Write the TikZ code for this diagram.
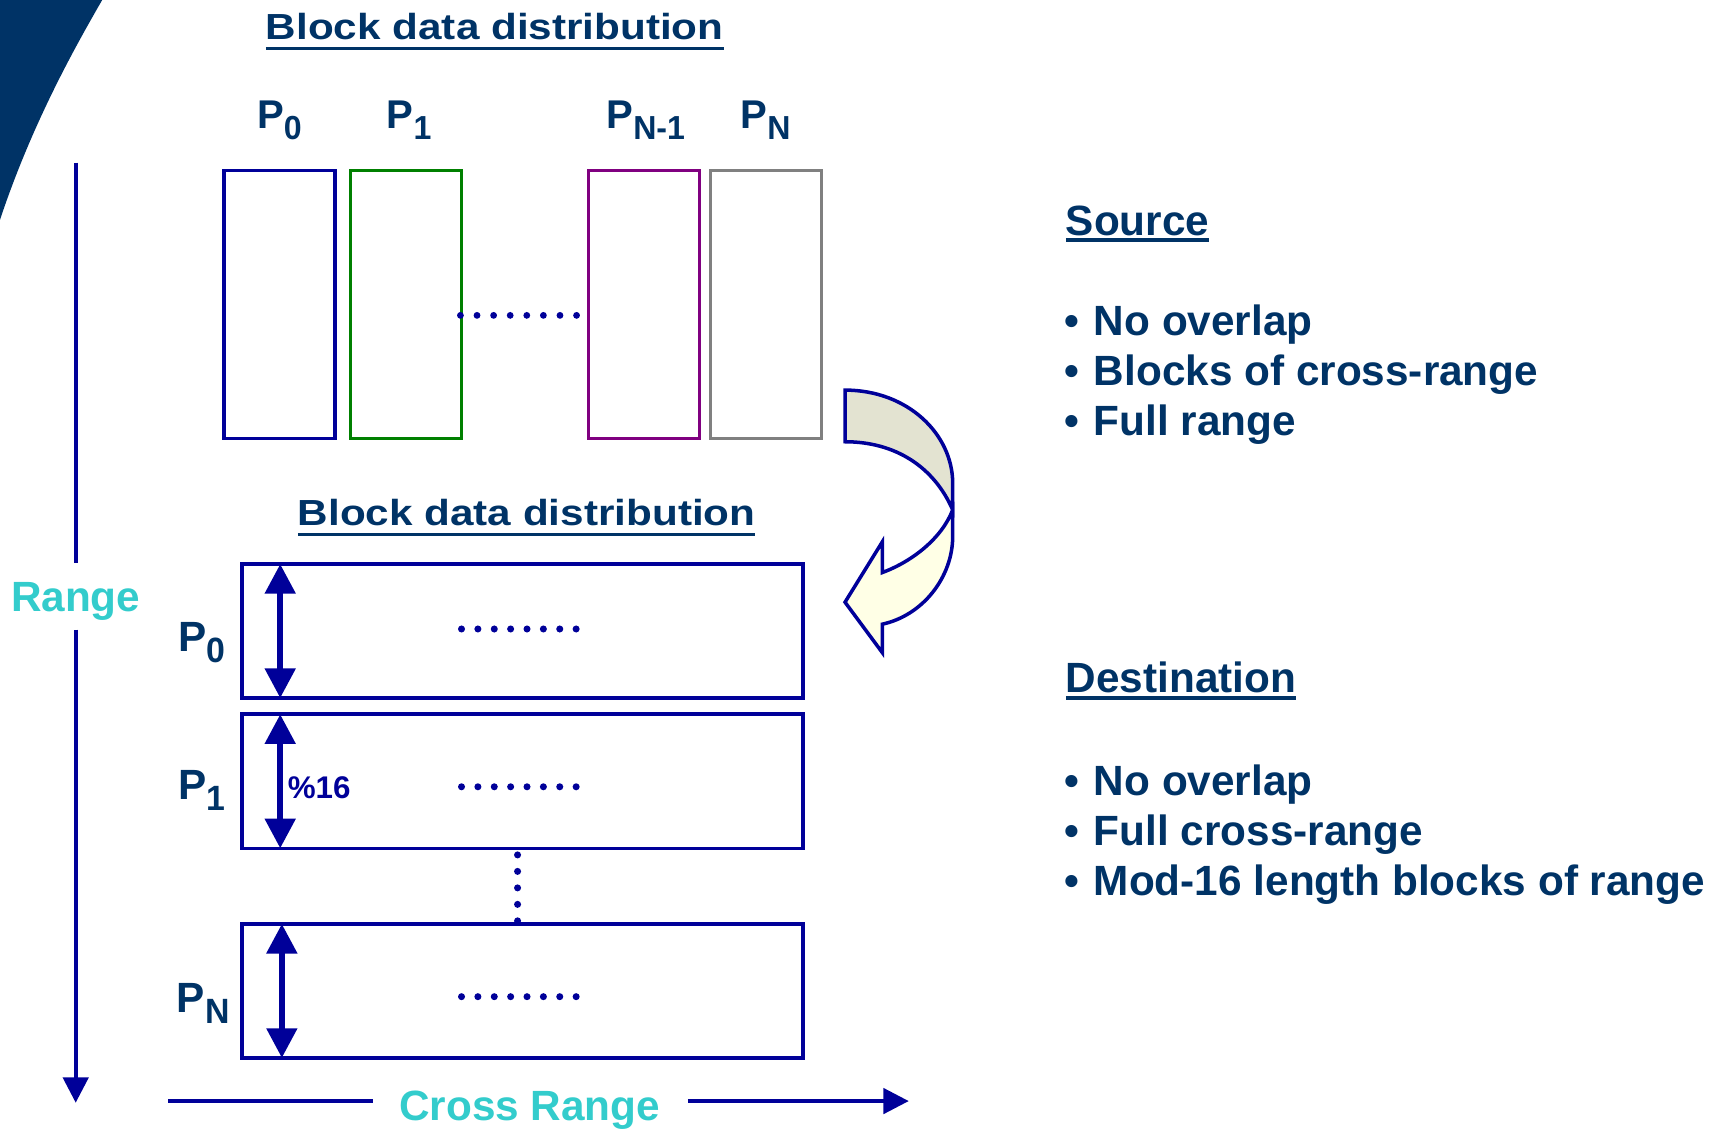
\documentclass[tikz,border=0pt]{standalone}
\usepackage{fontspec}
\setmainfont{Liberation Sans}
\usetikzlibrary{arrows.meta}
\definecolor{txt}{RGB}{0,51,102}
\definecolor{navy}{RGB}{0,0,153}
\definecolor{turq}{RGB}{51,204,204}
\definecolor{pgreen}{RGB}{0,128,0}
\definecolor{ppurple}{RGB}{128,0,128}
\definecolor{pgray}{RGB}{128,128,128}
\definecolor{arrowtop}{RGB}{227,227,209}
\definecolor{arrowbot}{RGB}{255,255,230}
\newcommand{\PSub}[1]{P\raisebox{-10pt}{\scalebox{0.8}[0.83]{#1}}}
\newcommand{\bul}{\makebox[26.5pt][l]{•}}
\begin{document}
\begin{tikzpicture}[x=1pt,y=-1pt,
  txtnode/.style={inner sep=0pt, outer sep=0pt, text=txt, font=\fontsize{38.5}{44}\selectfont\bfseries, anchor=base west},
  ttl/.style={txtnode, font=\fontsize{33}{38}\selectfont\bfseries},
  toplbl/.style={txtnode, font=\fontsize{36.5}{42}\selectfont\bfseries},
  ul/.style={draw=txt, line width=3.2pt},
  pbox/.style={draw, line width=3.2pt, inner sep=0pt, outer sep=0pt, minimum width=101pt, minimum height=244pt},
  hbox/.style={draw=navy, line width=3.3pt, inner sep=0pt, outer sep=0pt, minimum width=511pt, minimum height=122pt},
  axis/.style={draw=navy, line width=3.3pt},
  axarrow/.style={axis, -{Triangle[length=23pt,width=23pt]}},
  dbl/.style={draw=navy, line width=5.5pt, {Triangle[length=27pt,width=27pt]}-{Triangle[length=27pt,width=27pt]}},
  dotmark/.style={fill=navy},
  bigarrow/.style={draw=navy, line width=3.2pt, line join=miter},
]
\useasboundingbox (0,0) rectangle (1568,1028);

% corner decoration
\fill[txt] (0,0) -- (93,0) .. controls (70,40) and (30,110) .. (0,200) -- cycle;

% titles
\node[ttl] (title1) at (242,35.8) {\scalebox{1.165}[1]{Block data distribution}};
\draw[ul] ([yshift=-8.2pt]title1.base west) -- ([yshift=-8.2pt]title1.base east);
\node[ttl] (title2) at (271,478) {\scalebox{1.165}[1]{Block data distribution}};
\draw[ul] ([yshift=-8.2pt]title2.base west) -- ([yshift=-8.2pt]title2.base east);

% top labels
\node[toplbl] (lp0) at (234,116.5) {\PSub{0}};
\node[toplbl] (lp1) at (352,116.5) {\PSub{1}};
\node[toplbl] (lpn1) at (552,116.5) {\PSub{N-1}};
\node[toplbl] (lpn) at (674,116.5) {\PSub{N}};

% top boxes
\node[pbox, draw=navy] (b0) at (254.5,277) {};
\node[pbox, draw=pgreen] (b1) at (369.5,277) {};
\node[pbox, draw=ppurple] (bn1) at (586,277) {};
\node[pbox, draw=pgray] (bn) at (697,277) {};
\foreach \i in {0,...,7} \fill[dotmark] (419+\i*15.1,287) circle (3.1);

% curved arrow
\path[bigarrow, fill=arrowbot] (867,464) -- (867,488) .. controls (867,525) and (840,560) .. (803,568)
  -- (803,594) -- (769,548) -- (803,493) -- (803,521) .. controls (830,511) and (857,490) .. (867,464) -- cycle;
\path[bigarrow, fill=arrowtop] (769,355) .. controls (826,355) and (867,395) .. (867,440) -- (867,464)
  .. controls (850,425) and (815,402) .. (769,402) -- cycle;

% bottom boxes
\node[hbox] (h0) at (475.5,574.25) {};
\node[hbox] (h1) at (475.5,711) {};
\node[hbox] (hn) at (475.5,901.75) {};
\draw[dbl] ([xshift=-220.5pt]h0.north) -- ([xshift=-220.5pt]h0.south);
\draw[dbl] ([xshift=-220.5pt]h1.north) -- ([xshift=-220.5pt]h1.south);
\draw[dbl] ([xshift=-219pt]hn.north) -- ([xshift=-219pt]hn.south);
\node[txtnode, text=navy, font=\fontsize{28.5}{32}\selectfont\bfseries] (mod) at (262,726.5) {\%16};
\foreach \yy in {572.4,716,907} \foreach \i in {0,...,7} \fill[dotmark] (420+\i*14.9,\yy) circle (3.2);
\foreach \i in {0,...,4} \fill[dotmark] (471,778+\i*15) circle (3.2);

% left labels
\node[txtnode] (q0) at (162,593) {\PSub{0}};
\node[txtnode] (q1) at (162,728) {\PSub{1}};
\node[txtnode] (qn) at (161,921) {\PSub{N}};

% axes
\coordinate (rtop) at (68.9,148);
\coordinate (rgap1) at (68.9,512.6);
\coordinate (rgap2) at (68.9,573);
\coordinate (rend) at (68.9,1003.5);
\node[txtnode, text=turq, anchor=base] (range) at (68.9,556.6) {Range};
\draw[axis] (rtop) -- (rgap1);
\draw[axarrow] (rgap2) -- (rend);

\coordinate (cstart) at (153,1002);
\coordinate (cgap1) at (339,1002);
\coordinate (cgap2) at (626,1002);
\coordinate (cend) at (827,1002);
\node[txtnode, text=turq, anchor=base] (cross) at (482,1020) {Cross Range};
\draw[axis] (cstart) -- (cgap1);
\draw[axarrow] (cgap2) -- (cend);

% right text
\node[txtnode] (src) at (970,214) {Source};
\draw[ul] ([yshift=-4.5pt]src.base west) -- ([yshift=-4.5pt]src.base east);
\node[txtnode] (s1) at (969,305.5) {\bul No overlap};
\node[txtnode] (s2) at (969,350.5) {\bul Blocks of cross-range};
\node[txtnode] (s3) at (969,396) {\bul Full range};

\node[txtnode] (dst) at (970,630.4) {Destination};
\draw[ul] ([yshift=-4.8pt]dst.base west) -- ([yshift=-4.8pt]dst.base east);
\node[txtnode] (d1) at (969,723.5) {\bul No overlap};
\node[txtnode] (d2) at (969,769) {\bul Full cross-range};
\node[txtnode] (d3) at (969,814.5) {\bul Mod-16 length blocks of range};
\end{tikzpicture}
\end{document}
